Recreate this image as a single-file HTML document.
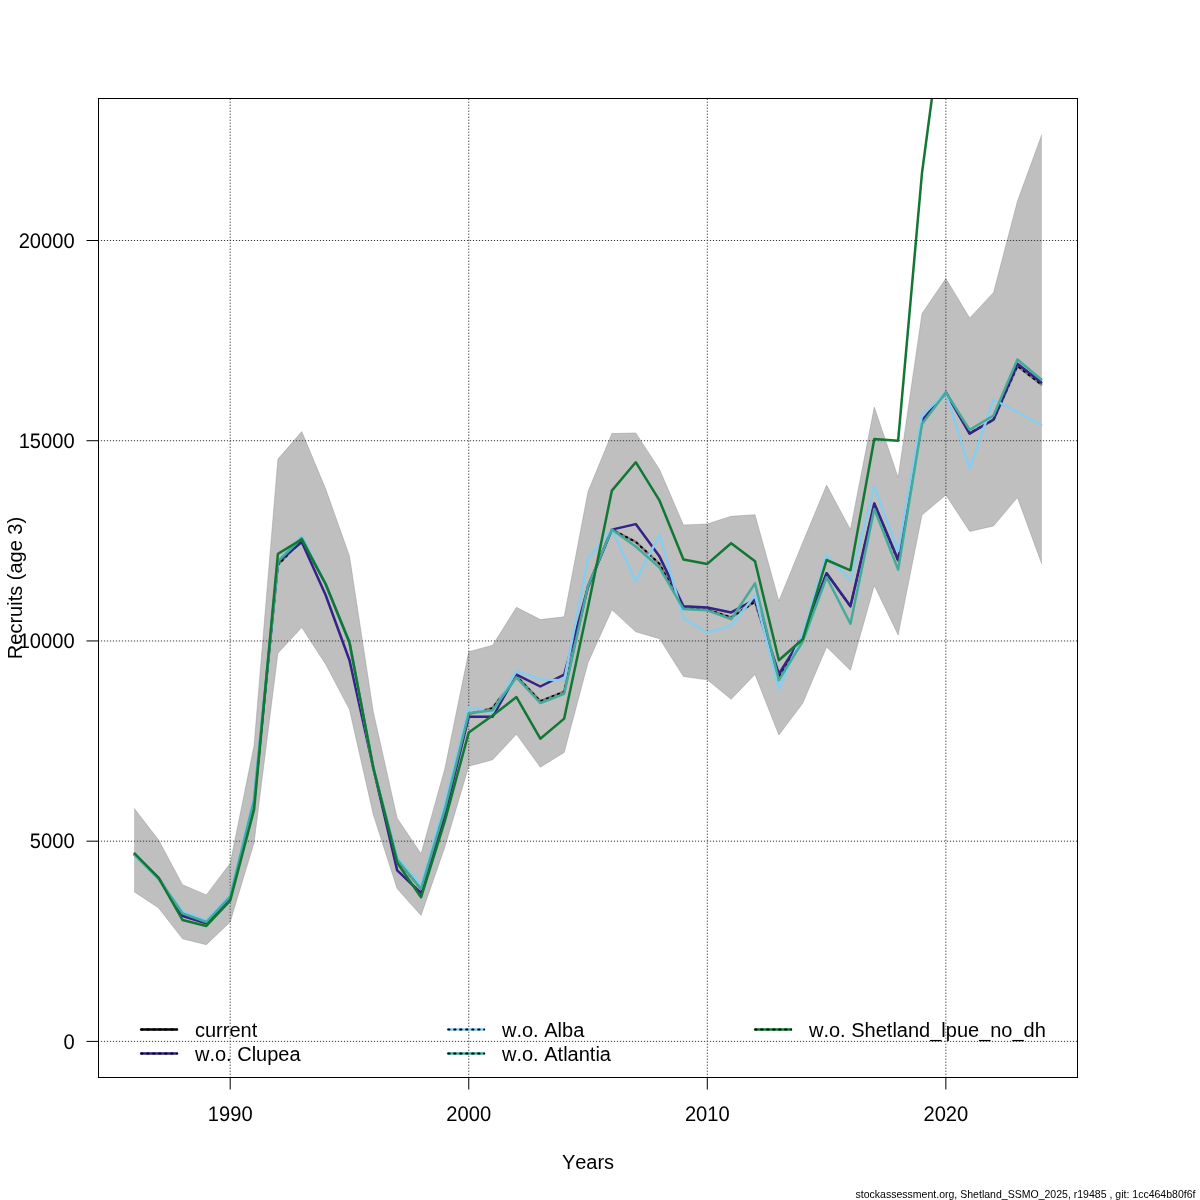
<!DOCTYPE html>
<html><head><meta charset="utf-8"><title>Recruits (age 3)</title>
<style>
html,body{margin:0;padding:0;background:#fff;}
body{width:1200px;height:1200px;overflow:hidden;}
svg{display:block;will-change:transform;}
text{font-family:"Liberation Sans", Arial, Helvetica, sans-serif;fill:#000;-webkit-font-smoothing:antialiased;font-kerning:none;}
.tk{text-rendering:geometricPrecision;}
</style></head><body>
<svg width="1200" height="1200" viewBox="0 0 1200 1200">
<rect x="0" y="0" width="1200" height="1200" fill="#fff"/>
<defs><clipPath id="pc"><rect x="98.5" y="98.5" width="979.0" height="979.0"/></clipPath></defs>

<g clip-path="url(#pc)">
<polygon points="134.13,808.30 158.63,840.00 182.49,884.70 206.34,894.90 230.20,863.30 254.05,745.50 277.91,459.10 301.76,431.60 325.62,488.80 349.48,556.00 373.33,712.00 397.19,818.30 421.04,853.80 444.89,768.50 468.75,651.70 492.61,645.30 516.46,607.30 540.32,619.60 564.17,616.80 588.02,491.50 611.88,433.60 635.74,432.90 659.59,469.50 683.44,525.00 707.30,524.00 731.15,516.30 755.01,514.70 778.87,601.00 802.72,542.50 826.58,485.10 850.43,529.50 874.29,407.10 898.14,477.50 921.99,313.50 945.85,278.50 969.70,318.00 993.56,292.40 1017.41,201.30 1041.87,134.40 1041.87,564.20 1017.41,497.50 993.56,526.00 969.70,531.40 945.85,495.00 921.99,515.10 898.14,635.00 874.29,585.50 850.43,670.30 826.58,647.00 802.72,703.30 778.87,735.10 755.01,674.40 731.15,699.30 707.30,679.80 683.44,676.60 659.59,638.70 635.74,631.80 611.88,609.80 588.02,662.70 564.17,752.50 540.32,767.20 516.46,734.20 492.61,759.80 468.75,766.20 444.89,847.00 421.04,915.40 397.19,888.80 373.33,814.80 349.48,709.60 325.62,664.20 301.76,627.50 277.91,653.20 254.05,842.80 230.20,922.00 206.34,944.70 182.49,938.70 158.63,908.00 134.13,891.70" fill="#808080" fill-opacity="0.5" stroke="none"/>
<polyline points="134.13,808.30 158.63,840.00 182.49,884.70 206.34,894.90 230.20,863.30 254.05,745.50 277.91,459.10 301.76,431.60 325.62,488.80 349.48,556.00 373.33,712.00 397.19,818.30 421.04,853.80 444.89,768.50 468.75,651.70 492.61,645.30 516.46,607.30 540.32,619.60 564.17,616.80 588.02,491.50 611.88,433.60 635.74,432.90 659.59,469.50 683.44,525.00 707.30,524.00 731.15,516.30 755.01,514.70 778.87,601.00 802.72,542.50 826.58,485.10 850.43,529.50 874.29,407.10 898.14,477.50 921.99,313.50 945.85,278.50 969.70,318.00 993.56,292.40 1017.41,201.30 1041.87,134.40" fill="none" stroke="#808080" stroke-opacity="0.4" stroke-width="0.9" stroke-linejoin="round"/>
<polyline points="134.13,891.70 158.63,908.00 182.49,938.70 206.34,944.70 230.20,922.00 254.05,842.80 277.91,653.20 301.76,627.50 325.62,664.20 349.48,709.60 373.33,814.80 397.19,888.80 421.04,915.40 444.89,847.00 468.75,766.20 492.61,759.80 516.46,734.20 540.32,767.20 564.17,752.50 588.02,662.70 611.88,609.80 635.74,631.80 659.59,638.70 683.44,676.60 707.30,679.80 731.15,699.30 755.01,674.40 778.87,735.10 802.72,703.30 826.58,647.00 850.43,670.30 874.29,585.50 898.14,635.00 921.99,515.10 945.85,495.00 969.70,531.40 993.56,526.00 1017.41,497.50 1041.87,564.20" fill="none" stroke="#808080" stroke-opacity="0.4" stroke-width="0.9" stroke-linejoin="round"/>
<g stroke="#383838" stroke-width="1" stroke-dasharray="1.2 1.8" fill="none"><line x1="230.20" y1="98.65" x2="230.20" y2="1077.5"/><line x1="468.75" y1="98.65" x2="468.75" y2="1077.5"/><line x1="707.30" y1="98.65" x2="707.30" y2="1077.5"/><line x1="945.85" y1="98.65" x2="945.85" y2="1077.5"/><line x1="97.9" y1="1041.40" x2="1077.5" y2="1041.40"/><line x1="97.9" y1="841.18" x2="1077.5" y2="841.18"/><line x1="97.9" y1="640.95" x2="1077.5" y2="640.95"/><line x1="97.9" y1="440.73" x2="1077.5" y2="440.73"/><line x1="97.9" y1="240.50" x2="1077.5" y2="240.50"/></g>
<polyline points="134.78,854.50 158.63,878.00 182.49,915.00 206.34,923.00 230.20,897.50 254.05,802.00 277.91,565.00 301.76,540.00 325.62,584.00 349.48,642.50 373.33,768.00 397.19,859.80 421.04,889.00 444.89,810.00 468.75,714.00 492.61,708.10 516.46,676.00 540.32,701.20 564.17,691.60 588.02,586.00 611.88,529.60 635.74,541.90 659.59,563.90 683.44,608.50 707.30,609.50 731.15,617.40 755.01,601.80 778.87,677.00 802.72,636.50 826.58,573.20 850.43,606.30 874.29,503.50 898.14,561.00 921.99,421.50 945.85,392.50 969.70,433.00 993.56,419.80 1017.41,366.00 1041.27,384.50" fill="none" stroke="#000" stroke-opacity="0.35" stroke-width="2.5" stroke-linejoin="round" stroke-linecap="round"/>
<polyline points="134.78,854.50 158.63,878.00 182.49,915.00 206.34,923.00 230.20,897.50 254.05,802.00 277.91,565.00 301.76,540.00 325.62,584.00 349.48,642.50 373.33,768.00 397.19,859.80 421.04,889.00 444.89,810.00 468.75,714.00 492.61,708.10 516.46,676.00 540.32,701.20 564.17,691.60 588.02,586.00 611.88,529.60 635.74,541.90 659.59,563.90 683.44,608.50 707.30,609.50 731.15,617.40 755.01,601.80 778.87,677.00 802.72,636.50 826.58,573.20 850.43,606.30 874.29,503.50 898.14,561.00 921.99,421.50 945.85,392.50 969.70,433.00 993.56,419.80 1017.41,366.00 1041.27,384.50" fill="none" stroke="#000" stroke-width="1.9" stroke-dasharray="1.3 4.7" stroke-linecap="round" stroke-linejoin="round"/>
<polyline points="134.78,854.50 158.63,878.00 182.49,916.00 206.34,923.30 230.20,898.00 254.05,803.00 277.91,562.00 301.76,542.00 325.62,595.00 349.48,660.30 373.33,768.00 397.19,870.40 421.04,893.00 444.89,814.50 468.75,716.70 492.61,716.70 516.46,674.60 540.32,686.50 564.17,674.60 588.02,587.00 611.88,529.60 635.74,524.10 659.59,556.60 683.44,606.20 707.30,607.60 731.15,612.40 755.01,599.70 778.87,674.00 802.72,636.00 826.58,573.20 850.43,606.30 874.29,503.50 898.14,559.80 921.99,420.50 945.85,392.50 969.70,433.75 993.56,419.50 1017.41,363.75 1041.27,382.50" fill="none" stroke="#332288" stroke-width="2.5" stroke-linejoin="round" stroke-linecap="round"/>
<polyline points="134.78,855.20 158.63,879.00 182.49,911.30 206.34,920.50 230.20,894.50 254.05,797.00 277.91,561.00 301.76,535.60 325.62,584.00 349.48,642.50 373.33,768.00 397.19,857.70 421.04,885.00 444.89,803.00 468.75,707.50 492.61,712.20 516.46,670.90 540.32,679.20 564.17,680.60 588.02,558.40 611.88,529.60 635.74,581.30 659.59,534.60 683.44,618.00 707.30,632.60 731.15,625.70 755.01,595.30 778.87,689.30 802.72,633.50 826.58,554.60 850.43,580.50 874.29,486.20 898.14,551.20 921.99,415.00 945.85,392.50 969.70,468.75 993.56,399.50 1017.41,412.00 1041.27,425.00" fill="none" stroke="#88ccee" stroke-width="2.5" stroke-linejoin="round" stroke-linecap="round"/>
<polyline points="134.78,854.80 158.63,878.80 182.49,913.30 206.34,922.00 230.20,896.70 254.05,800.00 277.91,561.30 301.76,538.00 325.62,584.00 349.48,642.50 373.33,768.00 397.19,859.50 421.04,889.00 444.89,809.20 468.75,713.20 492.61,710.30 516.46,677.30 540.32,703.00 564.17,693.80 588.02,585.90 611.88,529.60 635.74,546.50 659.59,567.60 683.44,609.00 707.30,610.30 731.15,619.20 755.01,583.40 778.87,680.20 802.72,641.50 826.58,577.30 850.43,623.80 874.29,508.90 898.14,569.60 921.99,424.00 945.85,392.50 969.70,429.80 993.56,415.50 1017.41,359.50 1041.27,379.50" fill="none" stroke="#44aa99" stroke-width="2.5" stroke-linejoin="round" stroke-linecap="round"/>
<polyline points="134.78,853.50 158.63,878.00 182.49,920.00 206.34,926.00 230.20,900.60 254.05,809.80 277.91,553.90 301.76,539.30 325.62,584.00 349.48,642.50 373.33,768.00 397.19,862.70 421.04,897.30 444.89,820.80 468.75,732.40 492.61,715.50 516.46,697.10 540.32,738.70 564.17,718.60 588.02,607.00 611.88,490.60 635.74,462.20 659.59,500.70 683.44,559.50 707.30,563.90 731.15,543.30 755.01,561.30 778.87,660.30 802.72,639.30 826.58,560.00 850.43,570.30 874.29,439.00 898.14,440.70 921.99,173.00 945.85,-7.00 969.70,-300.00 993.56,-300.00 1017.41,-300.00 1041.27,-300.00" fill="none" stroke="#117733" stroke-width="2.5" stroke-linejoin="round" stroke-linecap="round"/>
</g>
<rect x="98.5" y="98.5" width="979.0" height="979.0" fill="none" stroke="#000" stroke-width="1"/>
<line x1="86.5" y1="1041.40" x2="98.5" y2="1041.40" stroke="#000" stroke-width="1"/><text transform="translate(74.6,1048.70) scale(0.958,1)" class="tk" font-size="21" text-anchor="end">0</text><line x1="86.5" y1="841.18" x2="98.5" y2="841.18" stroke="#000" stroke-width="1"/><text transform="translate(74.6,848.48) scale(0.958,1)" class="tk" font-size="21" text-anchor="end">5000</text><line x1="86.5" y1="640.95" x2="98.5" y2="640.95" stroke="#000" stroke-width="1"/><text transform="translate(74.6,648.25) scale(0.958,1)" class="tk" font-size="21" text-anchor="end">10000</text><line x1="86.5" y1="440.73" x2="98.5" y2="440.73" stroke="#000" stroke-width="1"/><text transform="translate(74.6,448.03) scale(0.958,1)" class="tk" font-size="21" text-anchor="end">15000</text><line x1="86.5" y1="240.50" x2="98.5" y2="240.50" stroke="#000" stroke-width="1"/><text transform="translate(74.6,247.80) scale(0.958,1)" class="tk" font-size="21" text-anchor="end">20000</text><line x1="230.20" y1="1077.5" x2="230.20" y2="1089.5" stroke="#000" stroke-width="1"/><text transform="translate(230.20,1121) scale(0.958,1)" class="tk" font-size="21" text-anchor="middle">1990</text><line x1="468.75" y1="1077.5" x2="468.75" y2="1089.5" stroke="#000" stroke-width="1"/><text transform="translate(468.75,1121) scale(0.958,1)" class="tk" font-size="21" text-anchor="middle">2000</text><line x1="707.30" y1="1077.5" x2="707.30" y2="1089.5" stroke="#000" stroke-width="1"/><text transform="translate(707.30,1121) scale(0.958,1)" class="tk" font-size="21" text-anchor="middle">2010</text><line x1="945.85" y1="1077.5" x2="945.85" y2="1089.5" stroke="#000" stroke-width="1"/><text transform="translate(945.85,1121) scale(0.958,1)" class="tk" font-size="21" text-anchor="middle">2020</text>
<text x="588" y="1168.8" font-size="20" text-anchor="middle">Years</text>
<text transform="translate(22,588) rotate(-90)" x="0" y="0" font-size="20" text-anchor="middle">Recruits (age 3)</text>
<line x1="141.25" y1="1029.5" x2="176.75" y2="1029.5" stroke="#000" stroke-width="2.5" stroke-linecap="round"/>
<line x1="141.1" y1="1029.5" x2="177.3" y2="1029.5" stroke="#000" stroke-width="1.8" stroke-dasharray="1.5 4.5" stroke-linecap="round"/>
<text x="195" y="1037.1" font-size="20">current</text>
<line x1="141.25" y1="1053.5" x2="176.75" y2="1053.5" stroke="#332288" stroke-width="2.5" stroke-linecap="round"/>
<line x1="141.1" y1="1053.5" x2="177.3" y2="1053.5" stroke="#000" stroke-width="1.8" stroke-dasharray="1.5 4.5" stroke-linecap="round"/>
<text x="195" y="1061.1" font-size="20">w.o. Clupea</text>
<line x1="448.25" y1="1029.5" x2="483.75" y2="1029.5" stroke="#88ccee" stroke-width="2.5" stroke-linecap="round"/>
<line x1="448.1" y1="1029.5" x2="484.3" y2="1029.5" stroke="#000" stroke-width="1.8" stroke-dasharray="1.5 4.5" stroke-linecap="round"/>
<text x="502" y="1037.1" font-size="20">w.o. Alba</text>
<line x1="448.25" y1="1053.5" x2="483.75" y2="1053.5" stroke="#44aa99" stroke-width="2.5" stroke-linecap="round"/>
<line x1="448.1" y1="1053.5" x2="484.3" y2="1053.5" stroke="#000" stroke-width="1.8" stroke-dasharray="1.5 4.5" stroke-linecap="round"/>
<text x="502" y="1061.1" font-size="20">w.o. Atlantia</text>
<line x1="755.25" y1="1029.5" x2="790.75" y2="1029.5" stroke="#117733" stroke-width="2.5" stroke-linecap="round"/>
<line x1="755.1" y1="1029.5" x2="791.3" y2="1029.5" stroke="#000" stroke-width="1.8" stroke-dasharray="1.5 4.5" stroke-linecap="round"/>
<text x="809" y="1037.1" font-size="20">w.o. Shetland_lpue_no_dh</text>
<text x="1195.5" y="1198" font-size="11" text-anchor="end" textLength="340" lengthAdjust="spacingAndGlyphs">stockassessment.org, Shetland_SSMO_2025, r19485 , git: 1cc464b80f6f</text>
</svg>
</body></html>
